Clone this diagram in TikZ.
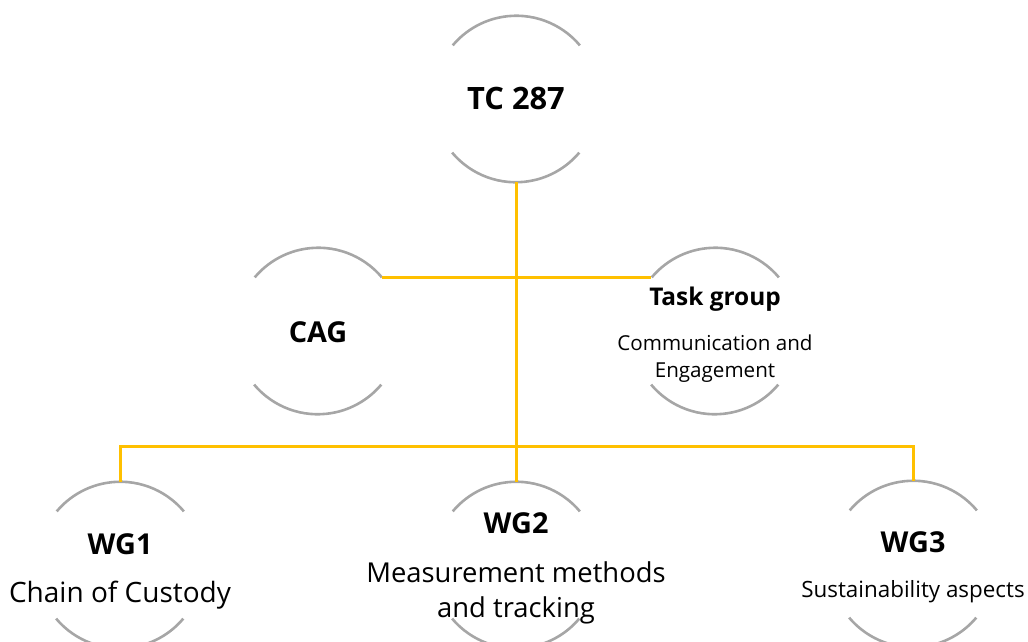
\documentclass[tikz,border=0pt]{standalone}
\usepackage{fontspec}
\setmainfont{Open Sans}
\definecolor{rimgray}{HTML}{A6A6A6}
\definecolor{linkgold}{HTML}{FFC000}

\begin{document}
\begin{tikzpicture}[x=0.5pt,y=-0.5pt,
  unit/.style={circle,minimum size=83pt,inner sep=0pt},
  rim/.style={draw=rimgray,line width=1.3pt},
  link/.style={draw=linkgold,line width=1.5pt},
  title/.style={anchor=base,font=\bfseries\fontsize{14.4}{17}\selectfont},
  body/.style={anchor=base,align=center}]
\useasboundingbox (0,0) rectangle (1028,642);
% circles, only the top and bottom of each rim is drawn
\node[unit] (tc)   at (516,99)  {};
\node[unit] (cag)  at (318,331) {};
\node[unit] (task) at (715,331) {};
\node[unit] (wg1)  at (120,565) {};
\node[unit] (wg2)  at (516,565) {};
\node[unit] (wg3)  at (913,564) {};
\foreach \n in {tc,cag,task,wg1,wg2,wg3}
  \draw[rim] (\n.40) arc (40:140:41.5pt)
             (\n.220) arc (220:320:41.5pt);
% texts (two-line bodies sit on their last line)
\node[title,font=\bfseries\fontsize{15.4}{18}\selectfont] (tc-title) at (516,110) {TC 287};
\node[title] (cag-title) at (318,342) {CAG};
\node[title,font=\bfseries\fontsize{12.2}{15}\selectfont] (task-title) at (715,305) {Task group};
\node[body,font=\fontsize{10.3}{13.5}\selectfont] (task-body) at (715,377) {Communication and\\Engagement};
\node[title] (wg1-title) at (120,554) {WG1};
\node[body,font=\fontsize{14}{17.5}\selectfont] (wg1-body) at (120,602) {Chain of Custody};
\node[title] (wg2-title) at (516,533) {WG2};
\node[body,font=\fontsize{13.7}{17.5}\selectfont] (wg2-body) at (516,617) {Measurement methods\\and tracking};
\node[title] (wg3-title) at (913,552) {WG3};
\node[body,font=\fontsize{11.2}{14}\selectfont] (wg3-body) at (913,597) {Sustainability aspects};
% connectors
\coordinate (bus) at (516,446);
\draw[link] (tc) -- (wg2);
\draw[link] (cag.40) -- (task.140);
\draw[link] (wg1.north) |- (bus) -| (wg3.north);
\end{tikzpicture}
\end{document}
